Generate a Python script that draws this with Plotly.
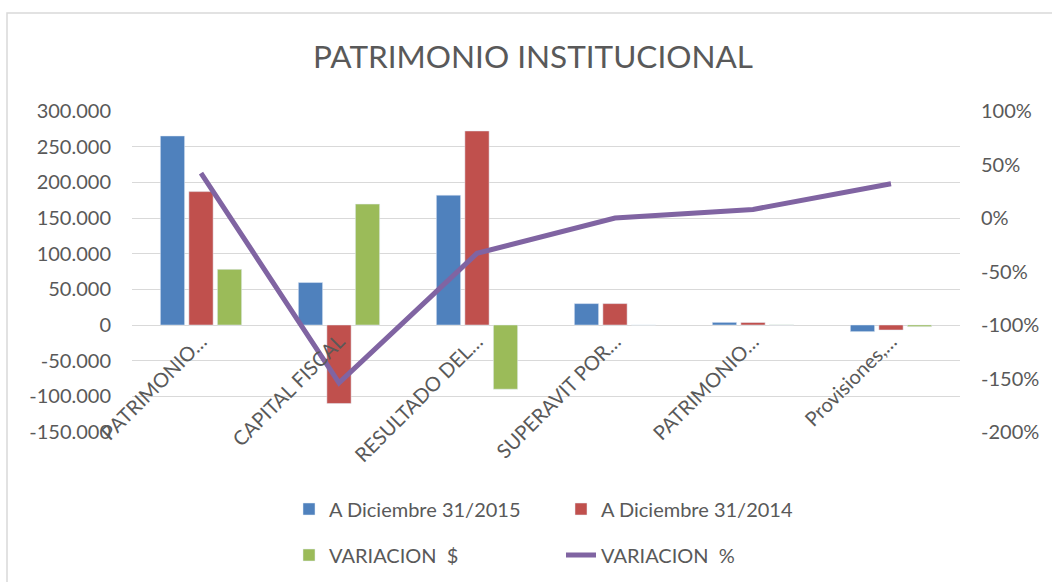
import plotly.graph_objects as go

# ---- data ----
categories = ["PATRIMONIO…", "CAPITAL FISCAL", "RESULTADO DEL…",
              "SUPERAVIT POR…", "PATRIMONIO…", "Provisiones,…"]
dic_2015 = [265000, 59500, 182000, 30000, 3700, -9300]
dic_2014 = [187000, -110000, 272000, 30000, 3500, -7000]
variacion_pesos = [78000, 169500, -90000, 0, 200, -2300]
variacion_pct = [0.42, -1.54, -0.33, 0.0, 0.08, 0.32]

left_tickvals = [300000, 250000, 200000, 150000, 100000, 50000, 0,
                 -50000, -100000, -150000]
left_ticktext = ["300.000", "250.000", "200.000", "150.000", "100.000",
                 "50.000", "0", "-50.000", "-100.000", "-150.000"]
right_tickvals = [1.0, 0.5, 0.0, -0.5, -1.0, -1.5, -2.0]
right_ticktext = ["100%", "50%", "0%", "-50%", "-100%", "-150%", "-200%"]

x_idx = list(range(len(categories)))

FONT = "Lato"
GREY = "#595959"

fig = go.Figure()
fig.add_trace(go.Bar(x=x_idx, y=dic_2015, name="A Diciembre 31/2015",
                     marker_color="#4F81BD", legend="legend"))
fig.add_trace(go.Bar(x=x_idx, y=dic_2014, name="A Diciembre 31/2014",
                     marker_color="#C0504D", legend="legend"))
fig.add_trace(go.Bar(x=x_idx, y=variacion_pesos, name="VARIACION  $",
                     marker_color="#9BBB59", legend="legend2"))
fig.add_trace(go.Scatter(x=x_idx, y=variacion_pct, name="VARIACION  %",
                         mode="lines", yaxis="y2",
                         line=dict(color="#8064A2", width=5),
                         legend="legend2"))

fig.update_layout(
    width=1052, height=582,
    margin=dict(l=132, r=92, t=111, b=150, autoexpand=False),
    paper_bgcolor="white", plot_bgcolor="white",
    font=dict(family=FONT, color=GREY, size=20),
    title=dict(text="PATRIMONIO INSTITUCIONAL", font=dict(size=31.5, color=GREY, family=FONT),
               x=533/1052, xref="container", xanchor="center",
               y=1-57/582, yref="container", yanchor="middle"),
    barmode="group", bargap=0.38, bargroupgap=0.15,
    xaxis=dict(range=[-0.5, 5.5], tickvals=x_idx, ticktext=categories,
               tickangle=-45, anchor="free", position=1/3, automargin=False,
               showgrid=False, zeroline=False, showline=False, ticks="",
               tickfont=dict(size=20, color=GREY)),
    yaxis=dict(range=[-150000, 300000], tickvals=left_tickvals, ticktext=left_ticktext,
               showgrid=True, gridcolor="#d9d9d9", gridwidth=1.3, automargin=False,
               zeroline=True, zerolinecolor="#d9d9d9", zerolinewidth=1.3,
               showline=False, ticks="", ticklabelstandoff=20,
               tickfont=dict(size=20, color=GREY)),
    yaxis2=dict(range=[-2, 1], tickvals=right_tickvals, ticktext=right_ticktext,
                overlaying="y", side="right", showgrid=False, zeroline=False,
                showline=False, ticks="", ticklabelstandoff=20, automargin=False,
                tickfont=dict(size=20, color=GREY)),
    legend=dict(orientation="h", xref="container", yref="container",
                x=289/1052, xanchor="left", y=1-509/582, yanchor="middle",
                entrywidth=227, entrywidthmode="pixels",
                font=dict(size=20, color=GREY, family=FONT),
                bgcolor="rgba(0,0,0,0)"),
    legend2=dict(orientation="h", xref="container", yref="container",
                 x=289/1052, xanchor="left", y=1-555/582, yanchor="middle",
                 entrywidth=227, entrywidthmode="pixels",
                 font=dict(size=20, color=GREY, family=FONT),
                 bgcolor="rgba(0,0,0,0)"),
    shapes=[dict(type="rect", xref="paper", yref="paper",
                 x0=(7-132)/828, x1=(1060-132)/828,
                 y0=-(590-432)/321, y1=(432-13)/321,
                 line=dict(color="#d9d9d9", width=1.5), layer="below")],
)

fig.write_html("out.html", config={"displayModeBar": False},
               post_script="document.body.style.margin='0';document.body.style.overflow='hidden';")
